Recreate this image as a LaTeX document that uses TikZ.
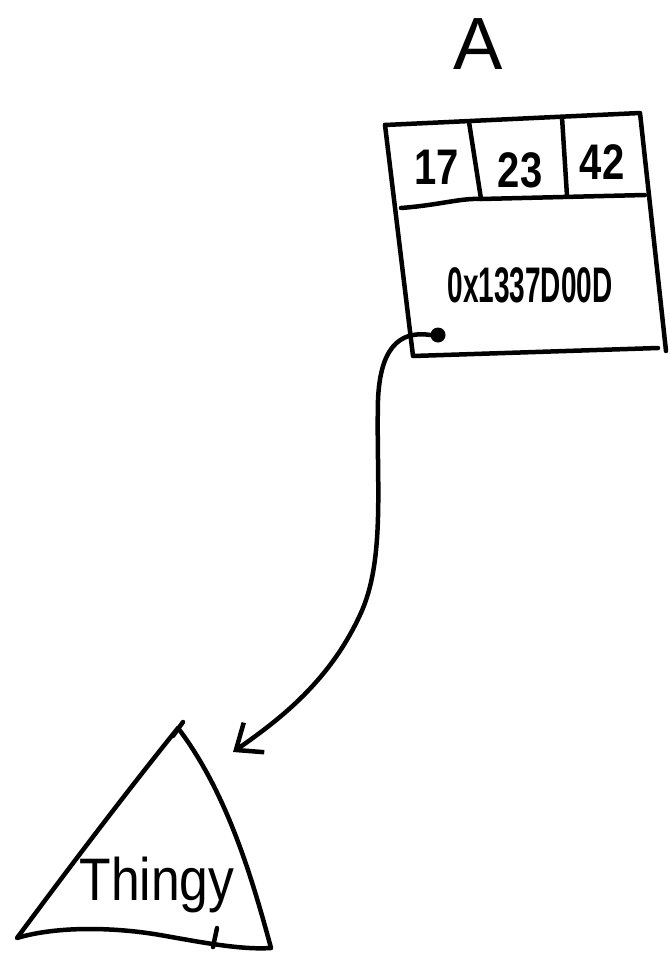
\documentclass[tikz,border=0pt]{standalone}
\usepackage{fontspec}
\setmainfont{Liberation Sans}
\usetikzlibrary{arrows.meta}
\tikzset{
  ink/.style={line width=4.5pt, line cap=round, line join=round},
  lbl/.style={inner sep=0pt, font=\fontsize{50}{50}\selectfont\bfseries},
}
\begin{document}
\begin{tikzpicture}[x=1pt,y=-1pt]
\useasboundingbox (0,0) rectangle (669,958);
% title
\node[inner sep=0pt, font=\fontsize{74}{74}\selectfont] (title) at (478,44) {A};
% record box corners
\coordinate (tl) at (385,125);
\coordinate (tr) at (640,113);
\coordinate (br) at (666,351);
\coordinate (bl) at (413,356);
\coordinate (ml) at (401,208);
\coordinate (mr) at (645,195);
\coordinate (c1t) at (469,122);
\coordinate (c1b) at (481,199);
\coordinate (c2t) at (562,117);
\coordinate (c2b) at (567,196);
\draw[ink] (tl) -- (tr) -- (br);
\draw[ink] (tl) -- (bl) -- (658,348);
\draw[ink] (ml) .. controls (440,205) and (460,198) .. (c1b) -- (mr);
\draw[ink] (c1t) -- (c1b);
\draw[ink] (c2t) -- (c2b);
\node[lbl, xscale=0.8] (v1) at (437,167) {17};
\node[lbl, xscale=0.8] (v2) at (520,170) {23};
\node[lbl, xscale=0.8] (v3) at (602,162) {42};
\node[inner sep=0pt, font=\fontsize{50}{50}\selectfont\bfseries, xscale=0.56] (addr) at (530,285) {0x1337D00D};
\node[circle, fill=black, inner sep=0pt, minimum size=15pt] (dot) at (438,335) {};
% triangle
\coordinate (apex) at (178,728);
\coordinate (tbl) at (17,938);
\coordinate (tbr) at (271,948);
\coordinate (tip) at (233,752);
\draw[ink] (apex) .. controls (120,800) and (60,880) .. (tbl)
  .. controls (60,925) and (120,928) .. (160,935)
  .. controls (200,942) and (240,950) .. (tbr)
  .. controls (250,870) and (225,790) .. (apex);
\draw[ink] (173,736) -- (183,722);
\draw[ink] (217,928) -- (213,947);
\node[inner sep=0pt, font=\fontsize{60}{60}\selectfont, xscale=0.86] (thing) at (157,885) {Thingy};
% pointer
\draw[ink, -{Straight Barb[length=22pt,width=36pt,line width=4.5pt]}] (dot.west) .. controls (398,330) and (380,350) .. (378,400)
  .. controls (376,480) and (386,560) .. (360,615)
  .. controls (330,680) and (282,718) .. (tip);
\end{tikzpicture}
\end{document}
